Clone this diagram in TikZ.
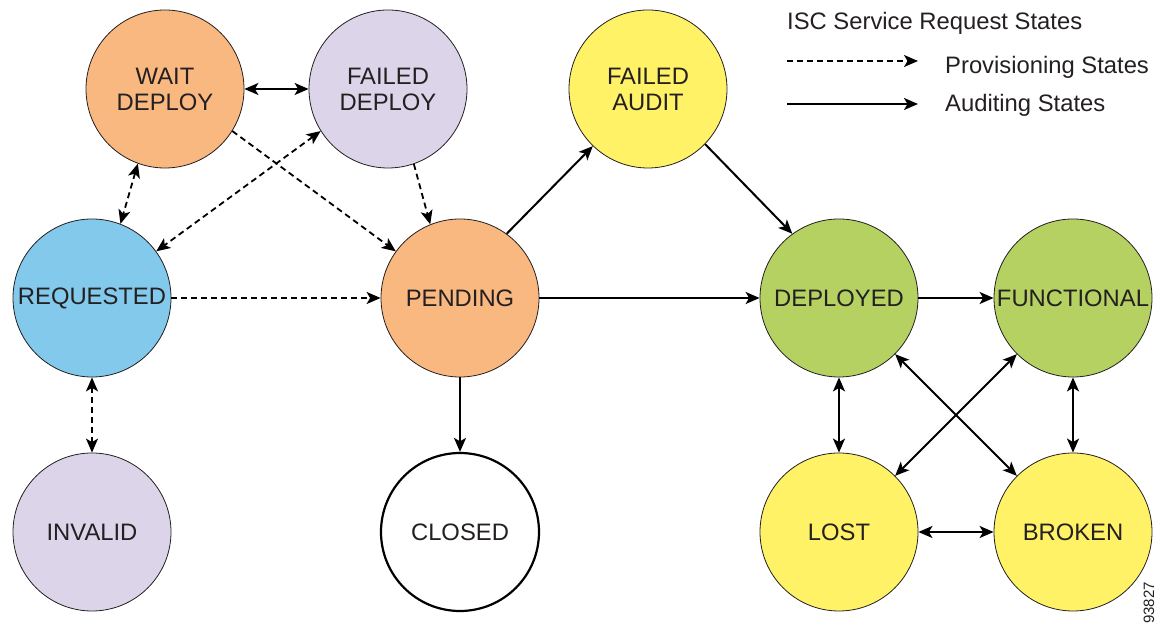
\documentclass[tikz,border=0pt]{standalone}
\usepackage{fontspec}
\setmainfont{Liberation Sans}
\usetikzlibrary{arrows.meta}

\begin{document}
\begin{tikzpicture}[>={Stealth[length=14bp,width=12bp,inset=3.5bp]},line join=bevel,
  state/.style={circle,draw=strokecol,line width=0.8bp,minimum size=158bp,inner sep=0pt,
    text=textcol,align=center,font=\fontsize{23.8bp}{26bp}\selectfont},
  provedge/.style={draw=black,line width=1.8bp,dash pattern=on 6bp off 4bp},
  auditedge/.style={draw=black,line width=2bp},
  legendtext/.style={anchor=base west,inner sep=0pt,text=textcol,font=\fontsize{23.8bp}{26bp}\selectfont}]
  \definecolor{strokecol}{rgb}{0.14,0.12,0.13};
  \definecolor{textcol}{rgb}{0.14,0.12,0.13};
  \definecolor{orangecol}{HTML}{F9B880};
  \definecolor{lilaccol}{HTML}{DCD4E8};
  \definecolor{bluecol}{HTML}{82C9EC};
  \definecolor{yellowcol}{HTML}{FFF267};
  \definecolor{greencol}{HTML}{B4D161};
  \useasboundingbox (0bp,0bp) rectangle (1164bp,627bp);
%%
  % Node: WAIT DEPLOY
  \node [state,fill=orangecol] (waitdeploy) at (165bp,538bp) {WAIT\\DEPLOY};
  % Node: FAILED DEPLOY
  \node [state,fill=lilaccol] (faileddeploy) at (388bp,538bp) {FAILED\\DEPLOY};
  % Node: FAILED AUDIT
  \node [state,fill=yellowcol] (failedaudit) at (648bp,538bp) {FAILED\\AUDIT};
  % Node: REQUESTED
  \node [state,fill=bluecol] (requested) at (92bp,329bp) {REQUESTED};
  % Node: PENDING
  \node [state,fill=orangecol] (pending) at (460bp,329bp) {PENDING};
  % Node: DEPLOYED
  \node [state,fill=greencol] (deployed) at (839bp,329bp) {DEPLOYED};
  % Node: FUNCTIONAL
  \node [state,fill=greencol] (functional) at (1073bp,329bp) {FUNCTIONAL};
  % Node: INVALID
  \node [state,fill=lilaccol] (invalid) at (92bp,95bp) {INVALID};
  % Node: CLOSED
  \node [state,fill=white,draw=black,line width=2.2bp] (closed) at (460bp,95bp) {CLOSED};
  % Node: LOST
  \node [state,fill=yellowcol] (lost) at (839bp,95bp) {LOST};
  % Node: BROKEN
  \node [state,fill=yellowcol] (broken) at (1073bp,95bp) {BROKEN};
%%
  % Edge: WAIT DEPLOY <-> FAILED DEPLOY
  \draw [auditedge,<->] (waitdeploy) -- (faileddeploy);
  % Edge: WAIT DEPLOY <-> REQUESTED
  \draw [provedge,<->] (waitdeploy.250) -- (requested.69);
  % Edge: FAILED DEPLOY <-> REQUESTED
  \draw [provedge,<->] (faileddeploy.212) -- (requested.36);
  % Edge: WAIT DEPLOY -> PENDING
  \draw [provedge,->] (waitdeploy.-32) -- (pending.144);
  % Edge: FAILED DEPLOY -> PENDING
  \draw [provedge,->] (faileddeploy.-71) -- (pending.112);
  % Edge: REQUESTED -> PENDING
  \draw [provedge,->] (requested) -- (pending);
  % Edge: REQUESTED <-> INVALID
  \draw [provedge,<->] (requested) -- (invalid);
  % Edge: PENDING -> FAILED AUDIT
  \draw [auditedge,->] (pending.54) -- (failedaudit.226);
  % Edge: FAILED AUDIT -> DEPLOYED
  \draw [auditedge,->] (failedaudit.-44) -- (deployed.126);
  % Edge: PENDING -> DEPLOYED
  \draw [auditedge,->] (pending) -- (deployed);
  % Edge: PENDING -> CLOSED
  \draw [auditedge,->] (pending) -- (closed);
  % Edge: DEPLOYED -> FUNCTIONAL
  \draw [auditedge,->] (deployed) -- (functional);
  % Edge: DEPLOYED <-> LOST
  \draw [auditedge,<->] (deployed) -- (lost);
  % Edge: FUNCTIONAL <-> BROKEN
  \draw [auditedge,<->] (functional) -- (broken);
  % Edge: DEPLOYED <-> BROKEN
  \draw [auditedge,<->] (deployed) -- (broken);
  % Edge: FUNCTIONAL <-> LOST
  \draw [auditedge,<->] (functional) -- (lost);
  % Edge: LOST <-> BROKEN
  \draw [auditedge,<->] (lost) -- (broken);
%%
  % Legend
  \node [legendtext] (legendtitle) at (787bp,597bp) {ISC Service Request States};
  \coordinate (provstart) at (787bp,566bp);
  \coordinate (provend) at (918bp,566bp);
  \draw [provedge,->] (provstart) -- (provend);
  \node [legendtext] (provlabel) at (945bp,553bp) {Provisioning States};
  \coordinate (auditstart) at (787bp,523bp);
  \coordinate (auditend) at (918bp,523bp);
  \draw [auditedge,->] (auditstart) -- (auditend);
  \node [legendtext] (auditlabel) at (945bp,515bp) {Auditing States};
  % Figure number
  \node [rotate=90,inner sep=0pt,text=textcol,font=\fontsize{15bp}{15bp}\selectfont] (fignum) at (1149bp,24bp) {93827};
%
\end{tikzpicture}
\end{document}
